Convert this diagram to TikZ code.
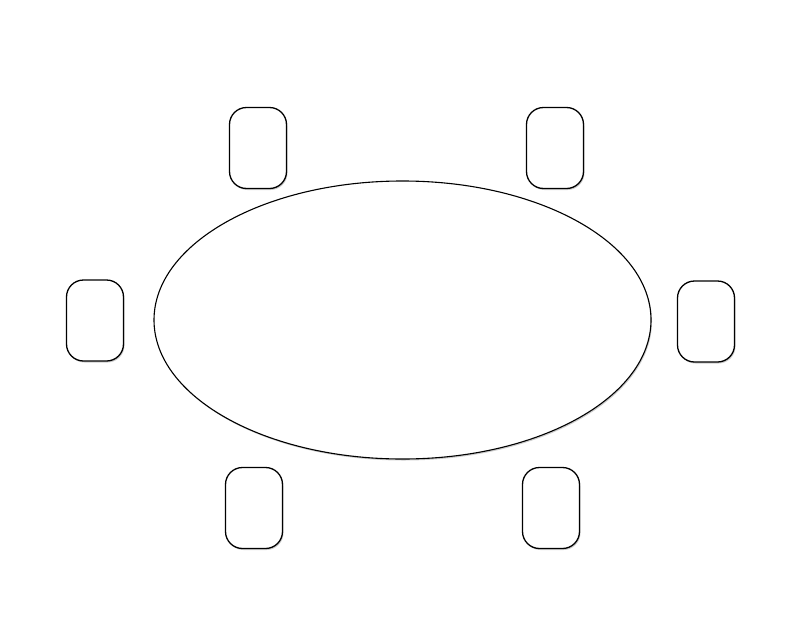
\documentclass[tikz,border=0pt]{standalone}
\usepackage{tikz}
\usetikzlibrary{shadows,shapes.geometric}

\tikzset{chair/.style={draw,line width=1.3pt,rounded corners=17pt,minimum width=57pt,minimum height=81pt,inner sep=0pt,fill=white,drop shadow={opacity=0.4,shadow xshift=1pt,shadow yshift=-1.5pt}}}
\tikzset{tabletop/.style={draw,line width=1.1pt,ellipse,minimum width=497pt,minimum height=278pt,inner sep=0pt,fill=white,drop shadow={opacity=0.4,shadow xshift=1pt,shadow yshift=-1.5pt}}}

\begin{document}
\begin{tikzpicture}[x=1pt,y=-1pt]
\useasboundingbox (0,0) rectangle (800,640);
\node (table) at (402.5,320) [tabletop]{};
\node (seatTL) at (258,148) [chair]{};
\node (seatTR) at (555,148) [chair]{};
\node (seatL) at (95,320.5) [chair]{};
\node (seatR) at (706,321.5) [chair]{};
\node (seatBL) at (254,508) [chair]{};
\node (seatBR) at (551,508) [chair]{};
\end{tikzpicture}
\end{document}
